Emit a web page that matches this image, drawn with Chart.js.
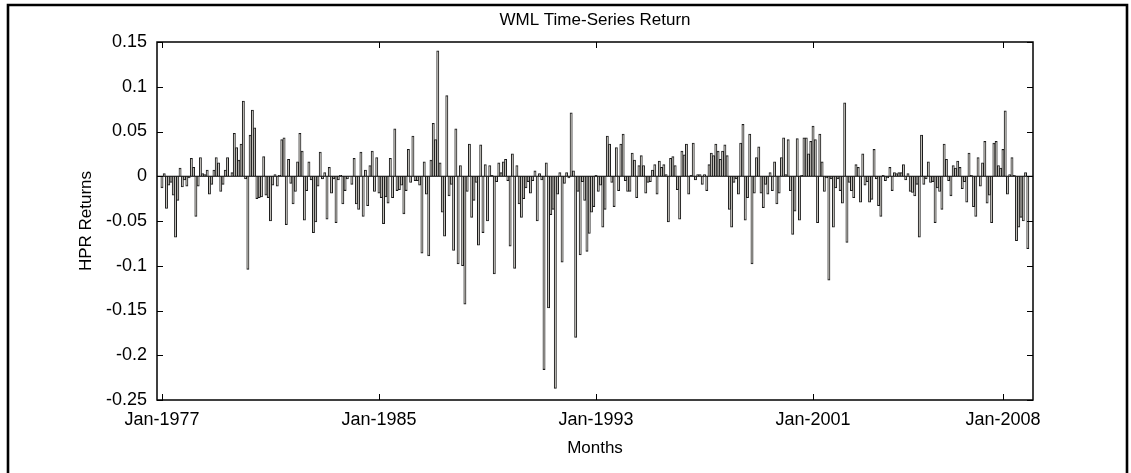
<!DOCTYPE html>
<html>
<head>
<meta charset="utf-8">
<title>WML Time-Series Return</title>
<script src="https://cdn.jsdelivr.net/npm/chart.js@4.4.1/dist/chart.umd.min.js"></script>
<style>
  html, body { margin: 0; padding: 0; background: #fff; }
  canvas { display: block; }
</style>
</head>
<body>
<canvas id="wml-chart" width="1131" height="473"></canvas>
<script>
// Textos del grafico
const tituloGrafico = 'WML Time-Series Return';
const tituloEjeX = 'Months';
const tituloEjeY = 'HPR Returns';

// Categorias: meses desde Jan-1977
const nombresMes = ['Jan', 'Feb', 'Mar', 'Apr', 'May', 'Jun', 'Jul', 'Aug', 'Sep', 'Oct', 'Nov', 'Dec'];
const anioInicio = 1977;

// Etiquetas de los ejes
const etiquetasX = ['Jan-1977', 'Jan-1985', 'Jan-1993', 'Jan-2001', 'Jan-2008'];
const marcasY = [0.15, 0.1, 0.05, 0, -0.05, -0.1, -0.15, -0.2, -0.25];

// Retornos mensuales, por tramos
const tramo1 = [-0.013, 0.003, -0.036, -0.01, -0.007, -0.021, -0.068, -0.027, 0.009, -0.012, -0.004, -0.011,
  -0.002, 0.02, 0.01, -0.045, -0.011, 0.021, 0.003, 0.002, 0.007, -0.02, -0.009, 0.007, 0.021, 0.015, -0.017,
  -0.009, 0.007, 0.021, 0, 0.004, 0.048, 0.032, 0.018, 0.036, 0.084, -0.003, -0.104, 0.046, 0.074, 0.054,
  -0.025, -0.024, -0.023, 0.022, -0.021];
const tramo2 = [-0.024, -0.05, -0.01, 0.002, -0.011, 0.001, 0.041, 0.043, -0.054, 0.019, -0.008, -0.031,
  -0.017, 0.016, 0.048, 0.028, -0.049, -0.016, 0.016, -0.004, -0.063, -0.051, -0.011, 0.027, -0.003, 0.004,
  -0.048, 0.01, -0.019, -0.003, -0.052, -0.004, 0.001, -0.031, -0.016, -0.003, 0, -0.009, 0.02, -0.031,
  -0.037, 0.027, -0.045, 0.007, -0.033, 0.012, 0.028, -0.017];
const tramo3 = [0.021, -0.019, -0.024, -0.053, -0.023, -0.03, 0.02, -0.024, 0.053, -0.016, -0.015, -0.01,
  -0.042, -0.016, 0.03, -0.007, 0.045, -0.005, -0.005, -0.01, -0.086, 0.016, -0.02, -0.089, 0.018, 0.059,
  0.041, 0.14, 0.015, -0.04, -0.067, 0.09, -0.022, -0.009, -0.083, 0.053, -0.098, 0.012, -0.1, -0.143,
  -0.017, 0.036, -0.046, -0.027, -0.007, -0.077, 0.035];
const tramo4 = [-0.063, 0.013, -0.05, 0.012, 0.001, -0.109, -0.006, 0.015, 0.004, 0.016, 0.019, -0.005,
  -0.078, 0.025, -0.103, 0.012, -0.031, -0.046, -0.025, -0.013, -0.006, -0.019, -0.005, 0.006, -0.05, 0.003,
  -0.004, -0.216, 0.015, -0.147, -0.043, -0.037, -0.237, -0.02, 0.004, -0.096, -0.008, 0.004, -0.002, 0.071,
  0.006, -0.18, -0.017, -0.088, -0.006, -0.027, -0.084, -0.064];
const tramo5 = [-0.04, -0.034, 0.001, -0.017, -0.01, -0.057, -0.037, 0.045, 0.036, -0.007, -0.034, 0.032,
  -0.016, 0.036, 0.047, -0.005, -0.017, -0.017, 0.026, 0.018, -0.024, 0.012, 0.023, 0.012, -0.019, -0.007,
  -0.006, 0.007, 0.013, -0.02, 0.017, 0.01, 0.013, 0.002, -0.051, 0.02, 0.022, 0.012, -0.015, -0.048, 0.028,
  0.024, 0.036, -0.02, 0.001, 0.037, -0.004];
const tramo6 = [0.002, 0.002, -0.009, 0.002, -0.016, 0.013, 0.026, 0.023, 0.036, 0.028, 0.019, 0.028,
  0.035, 0.023, -0.037, -0.057, -0.007, -0.003, -0.02, 0.037, 0.058, -0.049, -0.024, 0.047, -0.098, -0.019,
  0.021, 0.033, -0.019, -0.035, -0.009, -0.02, 0.004, -0.016, 0.016, -0.031, -0.019, 0.021, 0.043, 0.002,
  0.041, -0.016, -0.065, -0.039, 0.042, -0.049, 0.001, 0.043];
const tramo7 = [0.043, 0.025, 0.039, 0.056, 0.041, -0.052, 0.047, 0.016, -0.017, -0.002, -0.116, -0.003,
  -0.057, -0.013, -0.003, -0.016, -0.03, 0.082, -0.074, -0.007, -0.016, -0.024, 0.013, 0.01, -0.029, 0.025,
  -0.01, -0.006, -0.029, -0.026, 0.03, -0.003, -0.033, -0.045, 0.001, -0.005, -0.002, 0.01, -0.016, 0.004,
  0.003, 0.004, 0.004, 0.013, -0.004, 0.003, -0.017];
const tramo8 = [-0.018, -0.022, -0.009, -0.068, 0.046, -0.009, -0.003, 0.016, -0.007, -0.006, -0.052, -0.013,
  -0.017, -0.037, 0.036, 0.019, -0.005, -0.022, 0.012, 0.009, 0.017, 0.01, -0.014, -0.006, -0.029, 0.026,
  0.001, -0.034, -0.045, 0.021, -0.011, 0.015, 0.039, -0.03, -0.021, -0.052, 0.037, 0.039, 0.012, 0.009,
  0.03, 0.073, -0.02, 0.002, 0.021, 0.001, -0.072, -0.057, -0.046, -0.05, 0.004, -0.081];

const retornos = [].concat(tramo1, tramo2, tramo3, tramo4, tramo5, tramo6, tramo7, tramo8);

// Nombre de cada mes (Jan-1977, Feb-1977, ...)
const meses = retornos.map((_, i) => nombresMes[i % 12] + '-' + (anioInicio + Math.floor(i / 12)));
const puntos = retornos.map((v, i) => ({ x: i, y: v }));
const posicionesX = etiquetasX.map(e => meses.indexOf(e));

const fuente = "'Liberation Sans', Arial, sans-serif";

// Plugin para marco, ticks internos, linea base y textos (estilo MATLAB)
const estiloMatlab = {
    id: 'estiloMatlab',
    afterDatasetsDraw(chart) {
        const { ctx, chartArea: a, scales } = chart;
        ctx.save();

        // linea base en cero
        const y0 = scales.y.getPixelForValue(0);
        ctx.strokeStyle = '#000';
        ctx.lineWidth = 1.2;
        ctx.beginPath();
        ctx.moveTo(a.left, y0);
        ctx.lineTo(a.right, y0);
        ctx.stroke();

        // caja del eje
        ctx.lineWidth = 1.5;
        ctx.strokeRect(a.left, a.top, a.right - a.left, a.bottom - a.top);

        // ticks hacia adentro
        ctx.lineWidth = 1;
        ctx.beginPath();
        marcasY.forEach(v => {
            const y = Math.round(scales.y.getPixelForValue(v)) + 0.5;
            ctx.moveTo(a.left, y); ctx.lineTo(a.left + 6, y);
            ctx.moveTo(a.right, y); ctx.lineTo(a.right - 6, y);
        });
        posicionesX.forEach(p => {
            const x = Math.round(scales.x.getPixelForValue(p)) + 0.5;
            ctx.moveTo(x, a.bottom); ctx.lineTo(x, a.bottom - 6);
            ctx.moveTo(x, a.top); ctx.lineTo(x, a.top + 6);
        });
        ctx.stroke();

        // marco de la figura
        ctx.lineWidth = 2.6;
        ctx.beginPath();
        ctx.moveTo(8, 473);
        ctx.lineTo(8, 5);
        ctx.lineTo(1127, 5);
        ctx.lineTo(1127, 473);
        ctx.stroke();

        // textos
        ctx.fillStyle = '#000';
        ctx.font = '17px ' + fuente;
        ctx.textAlign = 'center';
        ctx.textBaseline = 'middle';
        const cx = (a.left + a.right) / 2;
        ctx.fillText(tituloGrafico, cx, 20);
        ctx.fillText(tituloEjeX, cx, 448);

        ctx.translate(86, (a.top + a.bottom) / 2);
        ctx.rotate(-Math.PI / 2);
        ctx.fillText(tituloEjeY, 0, 0);

        ctx.restore();
    }
};

const ctx = document.getElementById('wml-chart').getContext('2d');

new Chart(ctx, {
    type: 'bar',
    data: {
        datasets: [{
            data: puntos,
            backgroundColor: '#c9c6bf',
            borderColor: '#1a1a1a',
            borderWidth: 1,
            barPercentage: 1,
            categoryPercentage: 1
        }]
    },
    options: {
        responsive: false,
        animation: false,
        devicePixelRatio: 1,
        layout: { padding: { top: 42, right: 98, left: 0, bottom: 0 } },
        plugins: {
            legend: { display: false },
            tooltip: { enabled: false }
        },
        scales: {
            x: {
                type: 'linear',
                offset: false,
                min: -2.2,
                max: 385.3,
                grid: { display: false, drawTicks: false, offset: false },
                border: { display: false },
                afterBuildTicks: s => { s.ticks = posicionesX.map(v => ({ value: v })); },
                afterFit: s => { s.height = 73; },
                ticks: {
                    autoSkip: false,
                    maxRotation: 0,
                    padding: 9,
                    color: '#000',
                    font: { family: fuente, size: 18 },
                    callback: v => meses[v]
                }
            },
            y: {
                min: -0.25,
                max: 0.15,
                grid: { display: false, drawTicks: false },
                border: { display: false },
                afterBuildTicks: s => { s.ticks = marcasY.map(v => ({ value: v })); },
                afterFit: s => { s.width = 157; },
                ticks: {
                    padding: 10,
                    color: '#000',
                    font: { family: fuente, size: 18 },
                    callback: v => String(+v.toFixed(2))
                }
            }
        }
    },
    plugins: [estiloMatlab]
});
</script>
</body>
</html>
